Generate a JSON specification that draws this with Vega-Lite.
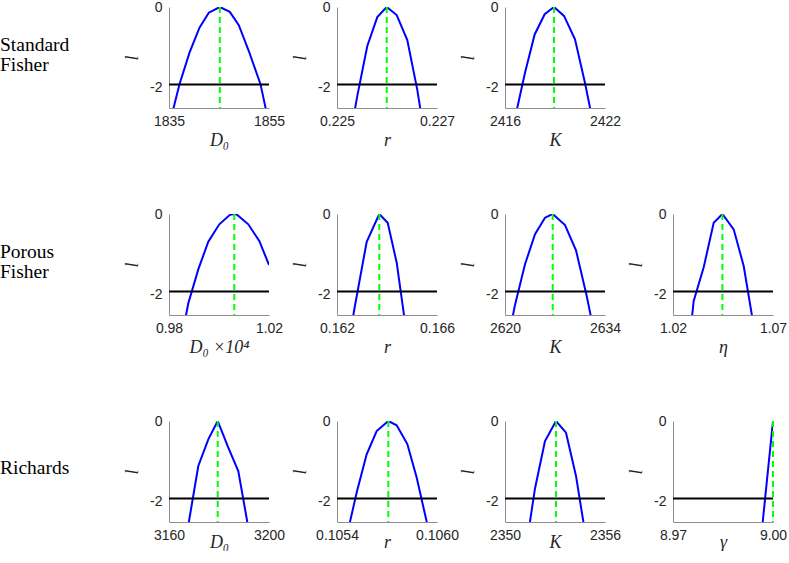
{
"$schema":"https://vega.github.io/schema/vega-lite/v6.json",
"padding":0,
"background":"white",
"columns":5,
"bounds":"flush",
"align":"each",
"spacing":{"row":106,"column":68},
"datasets":{
"labels":[{"row":1,"text":"Standard\nFisher"},{"row":2,"text":"Porous\nFisher"},{"row":3,"text":"Richards"}],
"thr":[{"l":-1.92}],
"mle":[{"p":"SF_D0","x":1845.16},{"p":"SF_r","x":0.225994},{"p":"SF_K","x":2418.94},{"p":"PF_D0","x":1.00612},{"p":"PF_r","x":0.163692},{"p":"PF_K","x":2626.68},{"p":"PF_eta","x":1.0447},{"p":"RI_D0","x":3179.48},{"p":"RI_r","x":0.105708},{"p":"RI_K","x":2353.06},{"p":"RI_gamma","x":9.0}],
"curves":[
{"p":"SF_D0","x":1835.1,"l":-2.9},{"p":"SF_D0","x":1837.1,"l":-1.91},{"p":"SF_D0","x":1839.1,"l":-1.13},{"p":"SF_D0","x":1841.1,"l":-0.51},{"p":"SF_D0","x":1842.96,"l":-0.14},{"p":"SF_D0","x":1845.16,"l":0},{"p":"SF_D0","x":1847.16,"l":-0.12},{"p":"SF_D0","x":1848.96,"l":-0.45},{"p":"SF_D0","x":1850.96,"l":-1.09},{"p":"SF_D0","x":1853.3,"l":-1.91},{"p":"SF_D0","x":1855.3,"l":-3.07},
{"p":"SF_r","x":0.225206,"l":-3.6},{"p":"SF_r","x":0.225406,"l":-2.2},{"p":"SF_r","x":0.225606,"l":-0.965},{"p":"SF_r","x":0.225806,"l":-0.25},{"p":"SF_r","x":0.225994,"l":0},{"p":"SF_r","x":0.226194,"l":-0.2},{"p":"SF_r","x":0.226406,"l":-0.82},{"p":"SF_r","x":0.226606,"l":-2.05},{"p":"SF_r","x":0.226806,"l":-3.6},
{"p":"SF_K","x":2416.6,"l":-2.75},{"p":"SF_K","x":2417.2,"l":-1.63},{"p":"SF_K","x":2417.78,"l":-0.68},{"p":"SF_K","x":2418.38,"l":-0.18},{"p":"SF_K","x":2418.94,"l":0},{"p":"SF_K","x":2419.54,"l":-0.22},{"p":"SF_K","x":2420.2,"l":-0.8},{"p":"SF_K","x":2420.8,"l":-1.88},{"p":"SF_K","x":2421.4,"l":-3.1},
{"p":"PF_D0","x":0.98372,"l":-3.5},{"p":"PF_D0","x":0.98772,"l":-2.21},{"p":"PF_D0","x":0.99172,"l":-1.37},{"p":"PF_D0","x":0.99572,"l":-0.685},{"p":"PF_D0","x":1.00012,"l":-0.255},{"p":"PF_D0","x":1.0044,"l":-0.02},{"p":"PF_D0","x":1.00612,"l":0},{"p":"PF_D0","x":1.00708,"l":-0.01},{"p":"PF_D0","x":1.01172,"l":-0.255},{"p":"PF_D0","x":1.01612,"l":-0.668},{"p":"PF_D0","x":1.02,"l":-1.26},
{"p":"PF_r","x":0.16225,"l":-4.2},{"p":"PF_r","x":0.16268,"l":-2.4},{"p":"PF_r","x":0.163188,"l":-0.686},{"p":"PF_r","x":0.163692,"l":0},{"p":"PF_r","x":0.164028,"l":-0.215},{"p":"PF_r","x":0.164388,"l":-1.205},{"p":"PF_r","x":0.164748,"l":-2.8},{"p":"PF_r","x":0.1651,"l":-4.5},
{"p":"PF_K","x":2620,"l":-3.5},{"p":"PF_K","x":2621.4,"l":-2.25},{"p":"PF_K","x":2622.8,"l":-1.245},{"p":"PF_K","x":2624.2,"l":-0.5},{"p":"PF_K","x":2625.6,"l":-0.092},{"p":"PF_K","x":2626.68,"l":0},{"p":"PF_K","x":2628.4,"l":-0.272},{"p":"PF_K","x":2629.94,"l":-0.898},{"p":"PF_K","x":2631.4,"l":-2.0},{"p":"PF_K","x":2632.8,"l":-3.2},
{"p":"PF_eta","x":1.02535,"l":-4.5},{"p":"PF_eta","x":1.03035,"l":-2.15},{"p":"PF_eta","x":1.03535,"l":-1.32},{"p":"PF_eta","x":1.04035,"l":-0.215},{"p":"PF_eta","x":1.0447,"l":0},{"p":"PF_eta","x":1.05035,"l":-0.38},{"p":"PF_eta","x":1.05535,"l":-1.287},{"p":"PF_eta","x":1.06035,"l":-2.77},{"p":"PF_eta","x":1.06535,"l":-4.5},
{"p":"RI_D0","x":3163.72,"l":-4.5},{"p":"RI_D0","x":3167.72,"l":-2.58},{"p":"RI_D0","x":3171.72,"l":-1.114},{"p":"RI_D0","x":3175.72,"l":-0.454},{"p":"RI_D0","x":3179.48,"l":0},{"p":"RI_D0","x":3183.72,"l":-0.66},{"p":"RI_D0","x":3187.72,"l":-1.238},{"p":"RI_D0","x":3191.72,"l":-2.64},{"p":"RI_D0","x":3195.72,"l":-4.5},
{"p":"RI_r","x":0.105458,"l":-2.86},{"p":"RI_r","x":0.105518,"l":-1.77},{"p":"RI_r","x":0.105578,"l":-0.824},{"p":"RI_r","x":0.105638,"l":-0.248},{"p":"RI_r","x":0.105708,"l":0},{"p":"RI_r","x":0.105758,"l":-0.106},{"p":"RI_r","x":0.105822,"l":-0.57},{"p":"RI_r","x":0.105878,"l":-1.4},{"p":"RI_r","x":0.105938,"l":-2.49},{"p":"RI_r","x":0.105998,"l":-3.6},
{"p":"RI_K","x":2351.2,"l":-3.3},{"p":"RI_K","x":2351.8,"l":-1.67},{"p":"RI_K","x":2352.4,"l":-0.495},{"p":"RI_K","x":2353.06,"l":0},{"p":"RI_K","x":2353.66,"l":-0.29},{"p":"RI_K","x":2354.26,"l":-1.36},{"p":"RI_K","x":2354.86,"l":-2.9},
{"p":"RI_gamma","x":8.996,"l":-3.24},{"p":"RI_gamma","x":9.0,"l":0}
]
},
"concat":[
{"width":101,"height":101,"data":{"name":"labels"},"transform":[{"filter":"datum.row===1"}],"mark":{"type":"text","align":"left","baseline":"middle","font":"Liberation Serif","fontSize":19.5,"lineHeight":20.3,"lineBreak":"\n","color":"black"},"encoding":{"text":{"field":"text"},"x":{"datum":0,"type":"quantitative","scale":{"domain":[0,1],"nice":false},"axis":null},"y":{"datum":-0.93,"type":"quantitative","scale":{"domain":[-2.5,0],"nice":false},"axis":null}}},
{"width":100,"height":101,"layer":[
{"data":{"name":"curves"},"transform":[{"filter":"datum.p==='SF_D0'"}],"mark":{"type":"line","color":"#0000ff","strokeWidth":2,"clip":true},"encoding":{"x":{"field":"x","type":"quantitative","scale":{"domain":[1835,1855],"nice":false,"zero":false},"axis":{"values":[1835,1855],"format":"d","title":"D₀"}},"y":{"field":"l","type":"quantitative","scale":{"domain":[-2.5,0],"nice":false},"axis":{"values":[0,-2],"title":"l"}}}},
{"data":{"name":"thr"},"mark":{"type":"rule","color":"#000000","strokeWidth":2},"encoding":{"y":{"field":"l","type":"quantitative"}}},
{"data":{"name":"mle"},"transform":[{"filter":"datum.p==='SF_D0'"}],"mark":{"type":"rule","color":"#00ff00","strokeWidth":2,"strokeDash":[6,4]},"encoding":{"x":{"field":"x","type":"quantitative"}}}
]},
{"width":100,"height":101,"layer":[
{"data":{"name":"curves"},"transform":[{"filter":"datum.p==='SF_r'"}],"mark":{"type":"line","color":"#0000ff","strokeWidth":2,"clip":true},"encoding":{"x":{"field":"x","type":"quantitative","scale":{"domain":[0.225,0.227],"nice":false,"zero":false},"axis":{"values":[0.225,0.227],"format":".3f","title":"r"}},"y":{"field":"l","type":"quantitative","scale":{"domain":[-2.5,0],"nice":false},"axis":{"values":[0,-2],"title":"l"}}}},
{"data":{"name":"thr"},"mark":{"type":"rule","color":"#000000","strokeWidth":2},"encoding":{"y":{"field":"l","type":"quantitative"}}},
{"data":{"name":"mle"},"transform":[{"filter":"datum.p==='SF_r'"}],"mark":{"type":"rule","color":"#00ff00","strokeWidth":2,"strokeDash":[6,4]},"encoding":{"x":{"field":"x","type":"quantitative"}}}
]},
{"width":100,"height":101,"layer":[
{"data":{"name":"curves"},"transform":[{"filter":"datum.p==='SF_K'"}],"mark":{"type":"line","color":"#0000ff","strokeWidth":2,"clip":true},"encoding":{"x":{"field":"x","type":"quantitative","scale":{"domain":[2416,2422],"nice":false,"zero":false},"axis":{"values":[2416,2422],"format":"d","title":"K"}},"y":{"field":"l","type":"quantitative","scale":{"domain":[-2.5,0],"nice":false},"axis":{"values":[0,-2],"title":"l"}}}},
{"data":{"name":"thr"},"mark":{"type":"rule","color":"#000000","strokeWidth":2},"encoding":{"y":{"field":"l","type":"quantitative"}}},
{"data":{"name":"mle"},"transform":[{"filter":"datum.p==='SF_K'"}],"mark":{"type":"rule","color":"#00ff00","strokeWidth":2,"strokeDash":[6,4]},"encoding":{"x":{"field":"x","type":"quantitative"}}}
]},
{"width":100,"height":101,"data":{"values":[]},"mark":"point"},
{"width":101,"height":101,"data":{"name":"labels"},"transform":[{"filter":"datum.row===2"}],"mark":{"type":"text","align":"left","baseline":"middle","font":"Liberation Serif","fontSize":19.5,"lineHeight":20.3,"lineBreak":"\n","color":"black"},"encoding":{"text":{"field":"text"},"x":{"datum":0,"type":"quantitative","scale":{"domain":[0,1],"nice":false},"axis":null},"y":{"datum":-0.93,"type":"quantitative","scale":{"domain":[-2.5,0],"nice":false},"axis":null}}},
{"width":100,"height":101,"layer":[
{"data":{"name":"curves"},"transform":[{"filter":"datum.p==='PF_D0'"}],"mark":{"type":"line","color":"#0000ff","strokeWidth":2,"clip":true},"encoding":{"x":{"field":"x","type":"quantitative","scale":{"domain":[0.98,1.02],"nice":false,"zero":false},"axis":{"values":[0.98,1.02],"format":".2f","title":"D₀ ×10⁴"}},"y":{"field":"l","type":"quantitative","scale":{"domain":[-2.5,0],"nice":false},"axis":{"values":[0,-2],"title":"l"}}}},
{"data":{"name":"thr"},"mark":{"type":"rule","color":"#000000","strokeWidth":2},"encoding":{"y":{"field":"l","type":"quantitative"}}},
{"data":{"name":"mle"},"transform":[{"filter":"datum.p==='PF_D0'"}],"mark":{"type":"rule","color":"#00ff00","strokeWidth":2,"strokeDash":[6,4]},"encoding":{"x":{"field":"x","type":"quantitative"}}}
]},
{"width":100,"height":101,"layer":[
{"data":{"name":"curves"},"transform":[{"filter":"datum.p==='PF_r'"}],"mark":{"type":"line","color":"#0000ff","strokeWidth":2,"clip":true},"encoding":{"x":{"field":"x","type":"quantitative","scale":{"domain":[0.162,0.166],"nice":false,"zero":false},"axis":{"values":[0.162,0.166],"format":".3f","title":"r"}},"y":{"field":"l","type":"quantitative","scale":{"domain":[-2.5,0],"nice":false},"axis":{"values":[0,-2],"title":"l"}}}},
{"data":{"name":"thr"},"mark":{"type":"rule","color":"#000000","strokeWidth":2},"encoding":{"y":{"field":"l","type":"quantitative"}}},
{"data":{"name":"mle"},"transform":[{"filter":"datum.p==='PF_r'"}],"mark":{"type":"rule","color":"#00ff00","strokeWidth":2,"strokeDash":[6,4]},"encoding":{"x":{"field":"x","type":"quantitative"}}}
]},
{"width":100,"height":101,"layer":[
{"data":{"name":"curves"},"transform":[{"filter":"datum.p==='PF_K'"}],"mark":{"type":"line","color":"#0000ff","strokeWidth":2,"clip":true},"encoding":{"x":{"field":"x","type":"quantitative","scale":{"domain":[2620,2634],"nice":false,"zero":false},"axis":{"values":[2620,2634],"format":"d","title":"K"}},"y":{"field":"l","type":"quantitative","scale":{"domain":[-2.5,0],"nice":false},"axis":{"values":[0,-2],"title":"l"}}}},
{"data":{"name":"thr"},"mark":{"type":"rule","color":"#000000","strokeWidth":2},"encoding":{"y":{"field":"l","type":"quantitative"}}},
{"data":{"name":"mle"},"transform":[{"filter":"datum.p==='PF_K'"}],"mark":{"type":"rule","color":"#00ff00","strokeWidth":2,"strokeDash":[6,4]},"encoding":{"x":{"field":"x","type":"quantitative"}}}
]},
{"width":100,"height":101,"layer":[
{"data":{"name":"curves"},"transform":[{"filter":"datum.p==='PF_eta'"}],"mark":{"type":"line","color":"#0000ff","strokeWidth":2,"clip":true},"encoding":{"x":{"field":"x","type":"quantitative","scale":{"domain":[1.02,1.07],"nice":false,"zero":false},"axis":{"values":[1.02,1.07],"format":".2f","title":"η"}},"y":{"field":"l","type":"quantitative","scale":{"domain":[-2.5,0],"nice":false},"axis":{"values":[0,-2],"title":"l"}}}},
{"data":{"name":"thr"},"mark":{"type":"rule","color":"#000000","strokeWidth":2},"encoding":{"y":{"field":"l","type":"quantitative"}}},
{"data":{"name":"mle"},"transform":[{"filter":"datum.p==='PF_eta'"}],"mark":{"type":"rule","color":"#00ff00","strokeWidth":2,"strokeDash":[6,4]},"encoding":{"x":{"field":"x","type":"quantitative"}}}
]},
{"width":101,"height":101,"data":{"name":"labels"},"transform":[{"filter":"datum.row===3"}],"mark":{"type":"text","align":"left","baseline":"middle","font":"Liberation Serif","fontSize":19.5,"lineHeight":20.3,"lineBreak":"\n","color":"black"},"encoding":{"text":{"field":"text"},"x":{"datum":0,"type":"quantitative","scale":{"domain":[0,1],"nice":false},"axis":null},"y":{"datum":-1.17,"type":"quantitative","scale":{"domain":[-2.5,0],"nice":false},"axis":null}}},
{"width":100,"height":101,"layer":[
{"data":{"name":"curves"},"transform":[{"filter":"datum.p==='RI_D0'"}],"mark":{"type":"line","color":"#0000ff","strokeWidth":2,"clip":true},"encoding":{"x":{"field":"x","type":"quantitative","scale":{"domain":[3160,3200],"nice":false,"zero":false},"axis":{"values":[3160,3200],"format":"d","title":"D₀","titlePadding":-9.5}},"y":{"field":"l","type":"quantitative","scale":{"domain":[-2.5,0],"nice":false},"axis":{"values":[0,-2],"title":"l"}}}},
{"data":{"name":"thr"},"mark":{"type":"rule","color":"#000000","strokeWidth":2},"encoding":{"y":{"field":"l","type":"quantitative"}}},
{"data":{"name":"mle"},"transform":[{"filter":"datum.p==='RI_D0'"}],"mark":{"type":"rule","color":"#00ff00","strokeWidth":2,"strokeDash":[6,4]},"encoding":{"x":{"field":"x","type":"quantitative"}}}
]},
{"width":100,"height":101,"layer":[
{"data":{"name":"curves"},"transform":[{"filter":"datum.p==='RI_r'"}],"mark":{"type":"line","color":"#0000ff","strokeWidth":2,"clip":true},"encoding":{"x":{"field":"x","type":"quantitative","scale":{"domain":[0.1054,0.106],"nice":false,"zero":false},"axis":{"values":[0.1054,0.106],"format":".4f","title":"r","titlePadding":-9.5}},"y":{"field":"l","type":"quantitative","scale":{"domain":[-2.5,0],"nice":false},"axis":{"values":[0,-2],"title":"l"}}}},
{"data":{"name":"thr"},"mark":{"type":"rule","color":"#000000","strokeWidth":2},"encoding":{"y":{"field":"l","type":"quantitative"}}},
{"data":{"name":"mle"},"transform":[{"filter":"datum.p==='RI_r'"}],"mark":{"type":"rule","color":"#00ff00","strokeWidth":2,"strokeDash":[6,4]},"encoding":{"x":{"field":"x","type":"quantitative"}}}
]},
{"width":100,"height":101,"layer":[
{"data":{"name":"curves"},"transform":[{"filter":"datum.p==='RI_K'"}],"mark":{"type":"line","color":"#0000ff","strokeWidth":2,"clip":true},"encoding":{"x":{"field":"x","type":"quantitative","scale":{"domain":[2350,2356],"nice":false,"zero":false},"axis":{"values":[2350,2356],"format":"d","title":"K","titlePadding":-9.5}},"y":{"field":"l","type":"quantitative","scale":{"domain":[-2.5,0],"nice":false},"axis":{"values":[0,-2],"title":"l"}}}},
{"data":{"name":"thr"},"mark":{"type":"rule","color":"#000000","strokeWidth":2},"encoding":{"y":{"field":"l","type":"quantitative"}}},
{"data":{"name":"mle"},"transform":[{"filter":"datum.p==='RI_K'"}],"mark":{"type":"rule","color":"#00ff00","strokeWidth":2,"strokeDash":[6,4]},"encoding":{"x":{"field":"x","type":"quantitative"}}}
]},
{"width":100,"height":101,"layer":[
{"data":{"name":"curves"},"transform":[{"filter":"datum.p==='RI_gamma'"}],"mark":{"type":"line","color":"#0000ff","strokeWidth":2,"clip":true},"encoding":{"x":{"field":"x","type":"quantitative","scale":{"domain":[8.97,9.0],"nice":false,"zero":false},"axis":{"values":[8.97,9.0],"format":".2f","title":"γ","titlePadding":-9.5}},"y":{"field":"l","type":"quantitative","scale":{"domain":[-2.5,0],"nice":false},"axis":{"values":[0,-2],"title":"l"}}}},
{"data":{"name":"thr"},"mark":{"type":"rule","color":"#000000","strokeWidth":2},"encoding":{"y":{"field":"l","type":"quantitative"}}},
{"data":{"name":"mle"},"transform":[{"filter":"datum.p==='RI_gamma'"}],"mark":{"type":"rule","color":"#00ff00","strokeWidth":2,"strokeDash":[6,4]},"encoding":{"x":{"field":"x","type":"quantitative"}}}
]}
],
"config":{
"view":{"stroke":null},
"axis":{"grid":false,"ticks":false,"domainColor":"#8f8f8f","domainWidth":1,"labelFont":"Liberation Sans","labelFontSize":14,"labelColor":"#262626","labelFlush":false,"labelOverlap":false,"titleFont":"Liberation Serif","titleFontStyle":"italic","titleFontWeight":"normal","titleFontSize":18,"titleColor":"#262626"},
"axisX":{"labelPadding":6.5,"titlePadding":3},
"axisY":{"labelPadding":7,"titlePadding":8,"labelExpr":"replace(datum.label, '−', '-')"}
}
}
